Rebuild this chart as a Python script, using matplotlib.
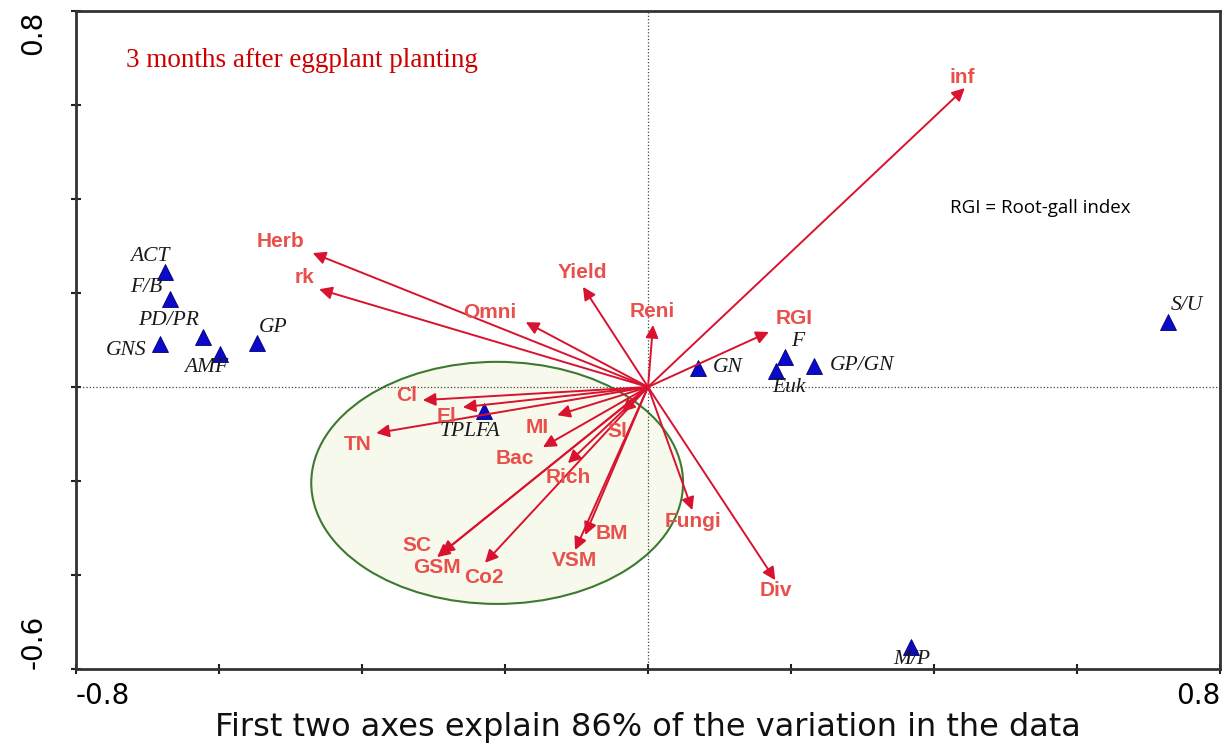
import matplotlib.pyplot as plt
from matplotlib.patches import Ellipse

# variable vectors (PCA loadings)
var_names = ["inf", "Herb", "rk", "Yield", "Reni", "RGI", "Omni", "Cl", "El", "TN",
             "MI", "Bac", "Rich", "Sl", "SC", "GSM", "Co2", "BM", "VSM", "Fungi", "Div"]
var_x = [0.443, -0.469, -0.460, -0.091, 0.007, 0.169, -0.171, -0.315, -0.259, -0.380,
         -0.127, -0.147, -0.112, -0.036, -0.295, -0.289, -0.228, -0.088, -0.102, 0.062, 0.178]
var_y = [0.636, 0.285, 0.208, 0.213, 0.132, 0.117, 0.138, -0.028, -0.043, -0.098,
         -0.060, -0.128, -0.162, -0.053, -0.362, -0.354, -0.374, -0.315, -0.347, -0.262, -0.411]

# sample / index scores
pt_names = ["ACT", "F/B", "PD/PR", "GNS", "AMF", "GP", "TPLFA",
            "GN", "F", "Euk", "GP/GN", "S/U", "M/P"]
pt_x = [-0.676, -0.669, -0.622, -0.683, -0.599, -0.547, -0.229,
        0.070, 0.192, 0.179, 0.232, 0.727, 0.368]
pt_y = [0.245, 0.187, 0.106, 0.091, 0.070, 0.094, -0.051,
        0.040, 0.064, 0.034, 0.045, 0.138, -0.553]

# label offsets in pixels (dx, dy up)
var_off = {"inf": (-3, 11), "Herb": (-32, 12), "rk": (-15, 12), "Yield": (-1, 14),
           "Reni": (-1, 13), "RGI": (25, 13), "Omni": (-36, 10), "Cl": (-16, 5),
           "El": (-16, -9), "TN": (-19, -11), "MI": (-20, -12), "Bac": (-28, -11),
           "Rich": (0, -14), "Sl": (-5, -20), "SC": (-20, 12), "GSM": (-4, -14),
           "Co2": (-1, -15), "BM": (27, 2), "VSM": (-1, -10), "Fungi": (1, -11),
           "Div": (1, -10)}
pt_off = {"ACT": (-15, 15), "F/B": (-23, 12), "PD/PR": (-35, 17), "GNS": (-34, -6),
          "AMF": (-13, -13), "GP": (16, 15), "TPLFA": (-14, -21), "GN": (30, 1),
          "F": (12, 15), "Euk": (13, -16), "GP/GN": (48, 0), "S/U": (19, 17),
          "M/P": (1, -13)}

arrow_col = "#d9122f"
label_col = "#e8504c"

fig = plt.figure(figsize=(12.22, 7.46), dpi=100)
ax = fig.add_axes([0.0622, 0.1032, 0.9362, 0.8821])
ax.set_xlim(-0.8, 0.8)
ax.set_ylim(-0.6, 0.8)

ax.add_patch(Ellipse((-0.211, -0.204), 0.52, 0.515, facecolor="#f7f9ec",
                     edgecolor="#3c7a30", lw=1.5, zorder=1))

ax.axhline(0, color="#444444", lw=0.9, ls=":", zorder=2)
ax.axvline(0, color="#444444", lw=0.9, ls=":", zorder=2)

for name, x, y in zip(var_names, var_x, var_y):
    ax.annotate("", xy=(x, y), xytext=(0, 0),
                arrowprops=dict(arrowstyle="-|>", color=arrow_col, lw=1.4,
                                mutation_scale=19, shrinkA=0, shrinkB=0),
                zorder=4)
    dx, dy = var_off[name]
    ax.annotate(name, xy=(x, y), xytext=(dx, dy), textcoords="offset pixels",
                ha="center", va="center", color=label_col, fontsize=15,
                fontweight="bold", family="Liberation Sans", zorder=5)

ax.plot(pt_x, pt_y, ls="none", marker="^", ms=11, color="#0a0ac8",
        mec="#00006e", mew=0.6, zorder=3)
for name, x, y in zip(pt_names, pt_x, pt_y):
    dx, dy = pt_off[name]
    ax.annotate(name, xy=(x, y), xytext=(dx, dy), textcoords="offset pixels",
                ha="center", va="center", color="#1a1a1a", fontsize=15.5,
                style="italic", family="Liberation Serif", zorder=5)

ax.text(0.044, 0.925, "3 months after eggplant planting", transform=ax.transAxes,
        color="#cc0000", fontsize=19.5, family="Liberation Serif", va="center")
ax.text(0.764, 0.7, "RGI = Root-gall index", transform=ax.transAxes,
        color="black", fontsize=13.5, family="Open Sans", va="center")

# ticks every 0.2, only the extremes labelled
xt = [-0.8, -0.6, -0.4, -0.2, 0.0, 0.2, 0.4, 0.6, 0.8]
yt = [-0.6, -0.4, -0.2, 0.0, 0.2, 0.4, 0.6, 0.8]
ax.set_xticks(xt)
ax.set_xticklabels(["-0.8"] + [""] * 7 + ["0.8"], fontsize=20, family="DejaVu Sans")
ax.set_yticks(yt)
ax.set_yticklabels(["-0.6"] + [""] * 6 + ["0.8"], fontsize=20, rotation=90,
                   family="DejaVu Sans")
xl = ax.get_xticklabels()
xl[0].set_ha("left")
xl[-1].set_ha("right")
yl = ax.get_yticklabels()
yl[0].set_va("bottom")
yl[-1].set_va("top")
ax.tick_params(direction="inout", length=7, width=1.5, color="#222222")
ax.tick_params(axis="x", pad=6)
ax.tick_params(axis="y", pad=17)
for s in ax.spines.values():
    s.set_linewidth(2)
    s.set_color("#333333")

fig.text(0.53, 0.013, "First two axes explain 86% of the variation in the data",
         fontsize=23, family="DejaVu Sans", ha="center", va="baseline", color="#111111")

fig.savefig("out.png", dpi=100)
